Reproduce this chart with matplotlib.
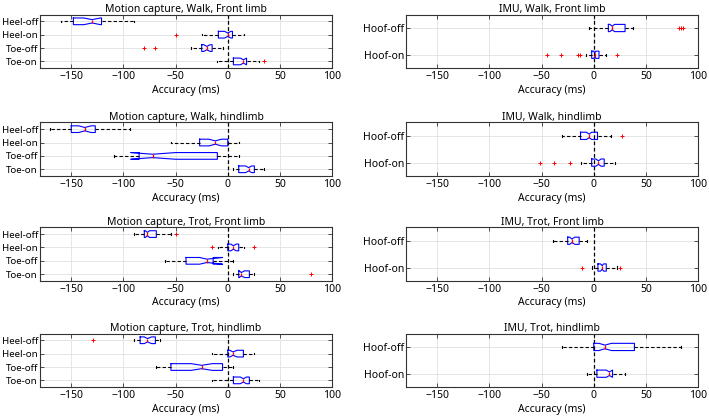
import matplotlib.pyplot as plt

plt.rcParams['font.family'] = ['Noto Sans', 'DejaVu Sans']

titles = ['Motion capture, Walk, Front limb', 'Motion capture, Walk, hindlimb',
          'Motion capture, Trot, Front limb', 'Motion capture, Trot, hindlimb',
          'IMU, Walk, Front limb', 'IMU, Walk, hindlimb',
          'IMU, Trot, Front limb', 'IMU, Trot, hindlimb']
mc_labels = ['Heel-off', 'Heel-on', 'Toe-off', 'Toe-on']
imu_labels = ['Hoof-off', 'Hoof-on']

# box statistics per panel, listed top to bottom
q1 = [[-148, -9, -25, 5.4], [-150, -27, -85, 10.5], [-80, 0, -40, 10.5], [-84, 0, -54.5, 5.4],
      [14, -2], [-12.7, -2], [-25, 4], [0, 3]]
med = [[-130, 0, -20, 15], [-137, -12, -72, 20], [-77, 5.4, -20, 13], [-77, 5, -25, 15],
       [17.6, 1], [-4.5, 4.5], [-21, 8], [10.7, 15]]
q3 = [[-121, 4.5, -15, 18], [-127, 0, -10, 25.5], [-68.5, 10.5, -14, 20.7], [-69.4, 15, -5, 20.7],
      [30, 5], [3.6, 10], [-14, 12], [39, 18]]
ci_lo = [[-138, -3, -23, 12], [-143, -18, -93, 17], [-79, 3, -27, 11], [-80, 2, -35, 12],
         [15.5, 0], [-7, 2], [-23, 6.5], [5, 12]]
ci_hi = [[-122, 3, -17, 18], [-131, -6, -50, 23], [-75, 8, -5, 16], [-73, 9, -15, 18],
         [20, 2], [-2, 7], [-18, 9.5], [17, 18]]
whisk_lo = [[-160, -25, -35, -10], [-170, -54.5, -109, 5.4], [-89.5, -9.5, -60, 5], [-89.5, -15, -69, -15],
            [-5, -7.5], [-30, -12.7], [-39.4, -1.3], [-30.6, -6]]
whisk_hi = [[-90, 16, -5, 30], [-94, 10.5, 10.5, 35], [-54.5, 16, 5.4, 25], [-64.6, 25, 5.4, 30],
            [38, 12], [17, 20.5], [-6, 22], [83.4, 30]]
outliers = [[[], [-50], [-80, -70], [35]],
            [[], [], [], []],
            [[-50], [-15, 25], [], [80]],
            [[-129], [], [], []],
            [[82, 84, 86], [-45, -31, -15, -13, 22]],
            [[27], [-52, -38, -23]],
            [[], [-11, 25]],
            [[], []]]

fig = plt.figure(figsize=(7.09, 4.18), dpi=100)
lefts = [0.0564, 0.5726]
bottoms = [0.837, 0.579, 0.328, 0.074]

for i in range(8):
    col = i // 4
    row = i % 4
    ax = fig.add_axes([lefts[col], bottoms[row], 0.412, 0.128])
    labels = mc_labels if col == 0 else imu_labels
    n = len(labels)
    stats = []
    for j in range(n):
        stats.append({'med': med[i][j], 'q1': q1[i][j], 'q3': q3[i][j],
                      'whislo': whisk_lo[i][j], 'whishi': whisk_hi[i][j],
                      'cilo': ci_lo[i][j], 'cihi': ci_hi[i][j],
                      'fliers': outliers[i][j]})
    w = 0.5 if n == 4 else 0.27
    pos = list(range(1, n + 1))
    ax.axvline(0, color='black', ls=(0, (3, 2)), lw=0.9, zorder=1)
    ax.bxp(stats, positions=pos, widths=w, orientation='horizontal', shownotches=True,
           capwidths=0.12 if n == 4 else 0.08,
           boxprops=dict(color='#0000ff', lw=0.8),
           medianprops=dict(color='red', lw=0.9),
           whiskerprops=dict(color='black', ls=(0, (3, 2)), lw=0.8),
           capprops=dict(color='black', lw=0.8),
           flierprops=dict(marker='+', markeredgecolor='red', markersize=2.2, markeredgewidth=0.7))
    ax.set_ylim(n + 0.5, 0.5)
    ax.set_yticks(pos)
    ax.set_yticklabels(labels)
    ax.set_xlim(-180, 100)
    ax.set_xticks([-150, -100, -50, 0, 50, 100])
    ax.set_xticklabels(['\u2212150', '\u2212100', '\u221250', '0', '50', '100'])
    ax.grid(True, color='#e0e0e0', lw=0.6)
    ax.set_axisbelow(True)
    ax.tick_params(direction='in', top=True, right=True, length=3, width=0.6,
                   labelsize=7.5, pad=2, color='#333333')
    ax.tick_params(axis='y', labelsize=7 if n == 4 else 7.5, pad=1.5)
    for s in ax.spines.values():
        s.set_color('#333333')
        s.set_linewidth(0.8)
    ax.set_title(titles[i], fontsize=7.5, pad=2)
    ax.set_xlabel('Accuracy (ms)', fontsize=7.5, labelpad=2)

fig.savefig('out.png', dpi=100)
